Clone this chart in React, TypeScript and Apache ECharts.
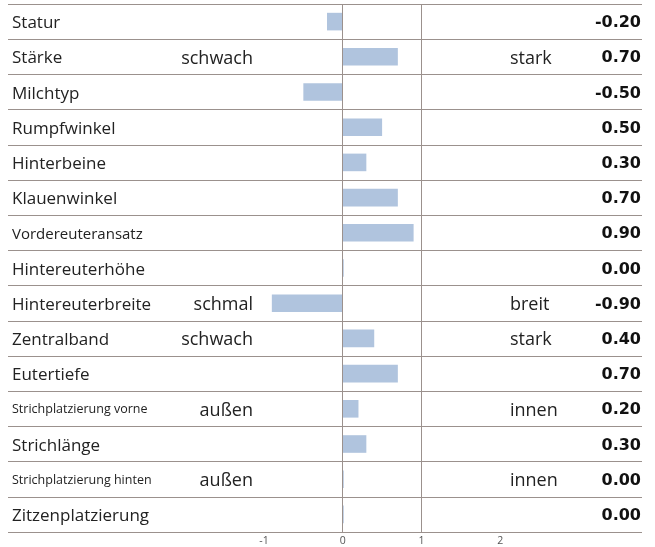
import React, { useEffect, useRef } from "react";
import * as echarts from "echarts";

const categories = [
  "Statur", "Stärke", "Milchtyp", "Rumpfwinkel", "Hinterbeine", "Klauenwinkel",
  "Vordereuteransatz", "Hintereuterhöhe", "Hintereuterbreite", "Zentralband",
  "Eutertiefe", "Strichplatzierung vorne", "Strichlänge", "Strichplatzierung hinten",
  "Zitzenplatzierung",
];
const values = [-0.2, 0.7, -0.5, 0.5, 0.3, 0.7, 0.9, 0.0, -0.9, 0.4, 0.7, 0.2, 0.3, 0.0, 0.0];
const lowLabels = ["", "schwach", "", "", "", "", "", "", "schmal", "schwach", "", "außen", "", "außen", ""];
const highLabels = ["", "stark", "", "", "", "", "", "", "breit", "stark", "", "innen", "", "innen", ""];
const mediumNames = ["Vordereuteransatz"];
const smallNames = ["Strichplatzierung vorne", "Strichplatzierung hinten"];
const xTicks = [-1, 0, 1, 2];

const FONT = "'Open Sans', sans-serif";
const LINE = "#9b918d";

export default function App() {
  const ref = useRef<HTMLDivElement>(null);
  useEffect(() => {
    if (!ref.current) return;
    const chart = echarts.init(ref.current, null, { renderer: "svg" });
    const baseY = {
      type: "category" as const,
      data: categories,
      inverse: true,
      axisLine: { show: false },
      axisTick: { show: false },
      splitLine: { show: false },
    };
    chart.setOption({
      animation: false,
      grid: {
        left: 8,
        right: 13,
        top: 4,
        bottom: 15,
        containLabel: false,
        outerBoundsMode: "none",
      },
      xAxis: {
        type: "value",
        min: -4.25,
        max: 3.8,
        interval: 0.25,
        splitLine: { show: false },
        axisLine: { show: false },
        axisTick: { show: false },
        axisLabel: {
          fontSize: 10.5,
          color: "#555",
          fontFamily: FONT,
          margin: 2,
          hideOverlap: false,
          formatter: (v: number) => {
            const hit = xTicks.find((t) => Math.abs(t - v) < 1e-6);
            return hit === undefined ? "" : String(hit);
          },
        },
      },
      yAxis: [
        {
          ...baseY,
          position: "left",
          splitLine: { show: true, lineStyle: { color: LINE, width: 1 } },
          axisLabel: {
            inside: true,
            margin: 4,
            align: "left",
            formatter: (v: string) =>
              smallNames.includes(v) ? `{s|${v}}` : mediumNames.includes(v) ? `{m|${v}}` : `{b|${v}}`,
            rich: {
              b: { fontSize: 17, color: "#222", fontFamily: FONT },
              m: { fontSize: 15, color: "#222", fontFamily: FONT },
              s: { fontSize: 12.5, color: "#222", fontFamily: FONT },
            },
          },
        },
        {
          ...baseY,
          position: "left",
          offset: -245,
          axisLabel: {
            margin: 0,
            align: "right",
            fontSize: 18,
            color: "#222",
            fontFamily: FONT,
            formatter: (_v: string, i: number) => lowLabels[i],
          },
        },
        {
          ...baseY,
          position: "left",
          offset: -502,
          axisLabel: {
            inside: true,
            margin: 0,
            align: "left",
            fontSize: 18,
            color: "#222",
            fontFamily: FONT,
            formatter: (_v: string, i: number) => highLabels[i],
          },
        },
        {
          ...baseY,
          position: "right",
          axisLabel: {
            inside: true,
            margin: 1,
            align: "right",
            fontSize: 16,
            fontWeight: "bold",
            color: "#111",
            fontFamily: "'DejaVu Sans', sans-serif",
            formatter: (_v: string, i: number) => values[i].toFixed(2),
          },
        },
      ],
      series: [
        {
          type: "bar",
          yAxisIndex: 0,
          data: values,
          barWidth: "50%",
          barMinHeight: 1,
          itemStyle: { color: "#b0c4de" },
          markLine: {
            silent: true,
            symbol: "none",
            label: { show: false },
            lineStyle: { color: LINE, type: "solid", width: 1 },
            data: [{ xAxis: 0 }, { xAxis: 1 }],
          },
        },
      ],
    });
    return () => chart.dispose();
  }, []);
  return (
    <div
      ref={ref}
      style={{ position: "fixed", left: 0, top: 0, width: 655, height: 547 }}
    />
  );
}
